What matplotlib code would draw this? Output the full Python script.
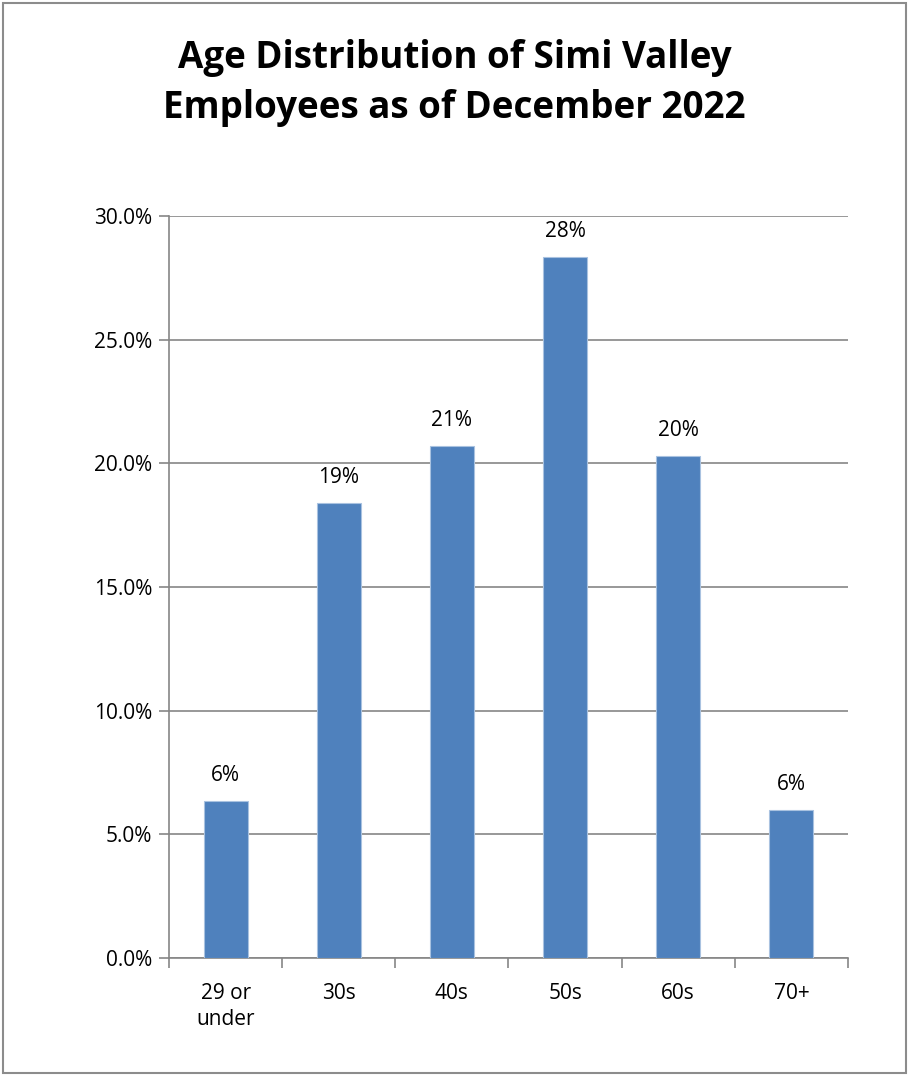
import matplotlib.pyplot as plt
import numpy as np
from matplotlib.patches import Rectangle
from matplotlib.ticker import FuncFormatter, FixedLocator

categories = ["29 or\nunder", "30s", "40s", "50s", "60s", "70+"]
shares = [6.35, 18.4, 20.7, 28.35, 20.3, 5.98]
labels = ["6%", "19%", "21%", "28%", "20%", "6%"]
y_ticks = [0, 5, 10, 15, 20, 25, 30]

plt.rcParams["font.family"] = ["Open Sans", "DejaVu Sans"]

W, H = 909, 1076
fig = plt.figure(figsize=(W / 100, H / 100), dpi=100)
fig.patches.append(
    Rectangle((3 / W, 3 / H), 1 - 6 / W, 1 - 6 / H, transform=fig.transFigure,
              fill=False, edgecolor="#8c8c8c", linewidth=1.5)
)

ax = fig.add_axes([169 / W, 1 - 958 / H, (848 - 169) / W, (958 - 216) / H])

x = np.arange(len(categories))
ax.bar(x, shares, width=0.39, color="#4f81bd", edgecolor="#a9c2e0", linewidth=0.8, zorder=3)
for xi, v, lab in zip(x, shares, labels):
    ax.text(xi, v + 0.6, lab, ha="center", va="bottom", fontsize=15, color="black")

ax.set_xlim(-0.5, len(categories) - 0.5)
ax.set_ylim(0, 30)
ax.set_yticks(y_ticks)
ax.yaxis.set_major_formatter(FuncFormatter(lambda v, p: f"{v:.1f}%"))
ax.yaxis.grid(True, color="#868686", linewidth=1.2, zorder=0)
ax.set_xticks(x)
ax.set_xticklabels(categories, fontsize=15, linespacing=1.3)
ax.xaxis.set_minor_locator(FixedLocator(np.arange(-0.5, len(categories), 1)))
ax.tick_params(axis="x", which="major", length=0, pad=18)
ax.tick_params(axis="x", which="minor", length=7, width=1.2, color="#868686")
ax.tick_params(axis="y", length=7, width=1.2, color="#868686", labelsize=15, pad=5)

for s in ["top", "right"]:
    ax.spines[s].set_visible(False)
for s in ["left", "bottom"]:
    ax.spines[s].set_color("#868686")
    ax.spines[s].set_linewidth(1.2)

fig.text(0.5, 1 - 83 / H, "Age Distribution of Simi Valley\nEmployees as of December 2022",
         ha="center", va="center", fontsize=26.5, fontweight="bold", linespacing=1.4)

fig.savefig("out.png", dpi=100)
